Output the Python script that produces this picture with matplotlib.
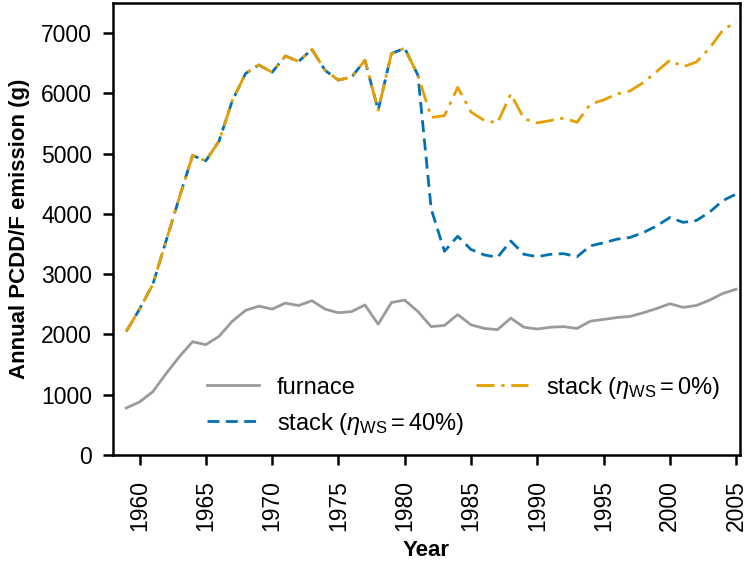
import numpy as np
import matplotlib
matplotlib.use('Agg')
from matplotlib import pyplot as plt

plt.rcParams['font.family'] = ['Liberation Sans', 'DejaVu Sans']
plt.rcParams['mathtext.fontset'] = 'custom'
plt.rcParams['mathtext.rm'] = 'Liberation Sans'
plt.rcParams['mathtext.it'] = 'Liberation Sans:italic'

years = list(range(1959, 2006))

furnace = [780, 880, 1050, 1350, 1630, 1880, 1830, 1970, 2220, 2400,
           2470, 2420, 2520, 2480, 2560, 2420, 2360, 2380, 2490, 2170,
           2530, 2570, 2380, 2130, 2150, 2330, 2160, 2100, 2080, 2270,
           2120, 2090, 2120, 2130, 2100, 2220, 2250, 2280, 2300, 2360,
           2430, 2510, 2450, 2480, 2570, 2680, 2750]

stack_ws40 = [2050, 2420, 2830, 3550, 4270, 4970, 4880, 5210, 5880, 6330,
              6470, 6350, 6620, 6530, 6730, 6380, 6220, 6270, 6550, 5720,
              6660, 6750, 6300, 4080, 3380, 3630, 3410, 3320, 3280, 3550,
              3330, 3290, 3330, 3340, 3290, 3470, 3520, 3580, 3610, 3690,
              3800, 3940, 3860, 3890, 4030, 4220, 4330]

stack_ws0 = [2050, 2420, 2830, 3550, 4270, 4970, 4880, 5210, 5880, 6330,
             6470, 6350, 6620, 6530, 6730, 6380, 6220, 6270, 6550, 5720,
             6660, 6750, 6300, 5600, 5630, 6100, 5690, 5550, 5510, 5990,
             5580, 5510, 5550, 5590, 5520, 5820, 5890, 5990, 6040, 6180,
             6360, 6550, 6440, 6520, 6750, 7050, 7190]

fig = plt.figure(figsize=(7.51, 5.63), dpi=100)
ax = fig.add_axes([0.1505, 0.1918, 0.835, 0.803])

ax.plot(years, furnace, color='#9b9b9b', lw=2, label='furnace')
ax.plot(years, stack_ws40, color='#0072B2', lw=2, ls=(0, (4.3, 2.3)),
        label=r'stack ($\eta_{\mathrm{WS}} = 40\%$)')
ax.plot(years, stack_ws0, color='#E69F00', lw=2, ls=(0, (6.5, 2.4, 1.2, 2.4)),
        label=r'stack ($\eta_{\mathrm{WS}} = 0\%$)')

ax.set_xlim(1958, 2005.3)
ax.set_ylim(0, 7500)
ax.set_xticks(range(1960, 2006, 5))
ax.set_yticks(range(0, 7001, 1000))
ax.tick_params(axis='x', labelrotation=90, pad=11)
ax.tick_params(axis='y', pad=8)
ax.tick_params(labelsize=16.5, width=1.8, length=7.2)
for s in ax.spines.values():
    s.set_linewidth(1.8)

ax.set_xlabel('Year', fontsize=16, fontweight='bold', labelpad=6)
ax.set_ylabel('Annual PCDD/F emission (g)', fontsize=16, fontweight='bold',
              labelpad=8)

ax.legend(ncol=2, frameon=False, fontsize=17, loc='lower left',
          bbox_to_anchor=(0.135, 0.02), handlelength=2.2, handletextpad=0.75,
          columnspacing=0.5, borderaxespad=0)

plt.savefig('out.png', dpi=100)
